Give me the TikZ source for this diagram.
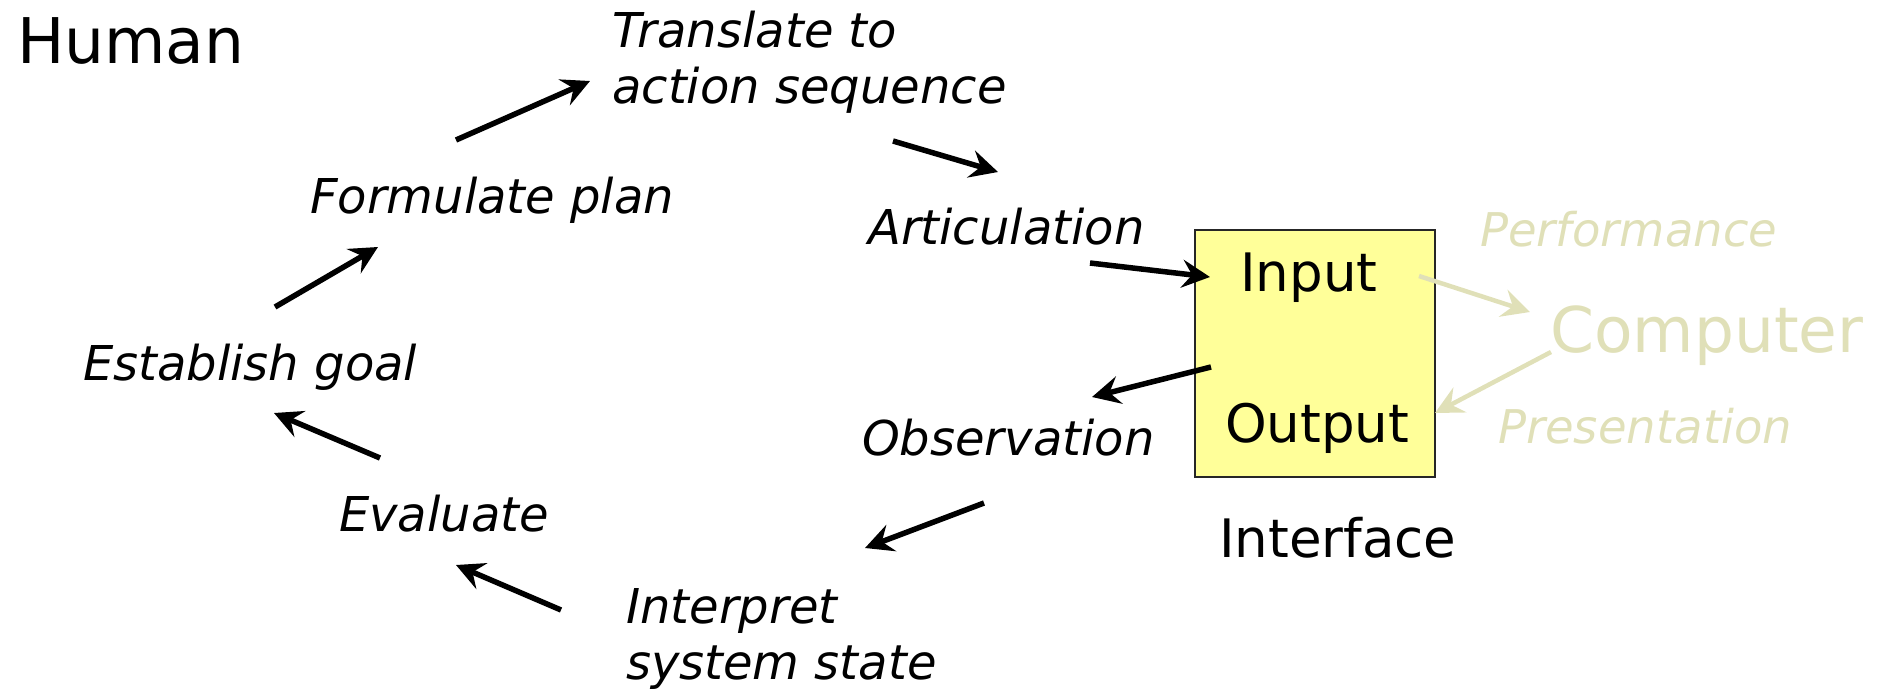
\documentclass[tikz,border=0pt]{standalone}
\usepackage{fontspec}
\setmainfont{DejaVu Sans}
\usetikzlibrary{arrows.meta}
\definecolor{faded}{RGB}{224,224,184}
\definecolor{boxfill}{RGB}{255,255,153}
\tikzset{
  stage/.style={font=\fontsize{48}{56}\selectfont\itshape, inner sep=0pt, anchor=base west, align=left},
  part/.style={font=\fontsize{53}{60}\selectfont, inner sep=0pt, anchor=base west},
  side/.style={font=\fontsize{46.5}{52}\selectfont\itshape, text=faded, inner sep=0pt, anchor=base west},
  flow/.style={line width=5.5pt, -{Stealth[length=28pt,width=28pt,inset=10pt]}},
  link/.style={flow, draw=faded, line width=4.5pt}
}
\begin{document}
\begin{tikzpicture}[x=1pt,y=-1pt]
  \useasboundingbox (0,0) rectangle (1883,689);
  \node[font=\fontsize{63}{70}\selectfont, inner sep=0pt, anchor=base west] (human) at (17,63) {Human};
  \node[stage] (translate) at (612,103) {Translate to\\action sequence};
  \node[stage] (plan) at (310,213) {Formulate plan};
  \node[stage] (artic) at (868,244) {Articulation};
  \node[stage] (goal) at (83,380) {Establish goal};
  \node[stage] (observ) at (862,455) {Observation};
  \node[stage] (eval) at (339,531) {Evaluate};
  \node[stage] (interp) at (626,679) {Interpret\\system state};
  \node[draw=black!85, line width=2pt, fill=boxfill, minimum width=240pt, minimum height=247pt, inner sep=0pt] (iface) at (1315,353.5) {};
  \node[part] (input) at (1240,291) {Input};
  \node[part] (output) at (1225,442) {Output};
  \node[part] (ifacelbl) at (1219,557) {Interface};
  \node[side] (perf) at (1480,246) {Performance};
  \node[font=\fontsize{63}{70}\selectfont, text=faded, inner sep=0pt, anchor=base west] (computer) at (1550,352) {Computer};
  \node[side] (present) at (1498,443) {Presentation};
  \coordinate (goal-out) at (275,307);   \coordinate (plan-in) at (378,247);
  \coordinate (plan-out) at (456,140);   \coordinate (translate-in) at (590,81);
  \coordinate (translate-out) at (893,141); \coordinate (artic-in) at (998,172);
  \coordinate (artic-out) at (1090,263); \coordinate (input-in) at (1210,277);
  \coordinate (output-out) at (1211,367); \coordinate (observ-in) at (1092,397);
  \coordinate (observ-out) at (984,503); \coordinate (interp-in) at (865,548);
  \coordinate (interp-out) at (561,610); \coordinate (eval-in) at (456,565);
  \coordinate (eval-out) at (380,458);   \coordinate (goal-in) at (274,413);
  \coordinate (input-out) at (1419,276); \coordinate (computer-in) at (1530,312);
  \coordinate (computer-out) at (1551,352); \coordinate (output-in) at (1435,413);
  \draw[flow] (goal-out) -- (plan-in);
  \draw[flow] (plan-out) -- (translate-in);
  \draw[flow] (translate-out) -- (artic-in);
  \draw[flow] (artic-out) -- (input-in);
  \draw[flow] (output-out) -- (observ-in);
  \draw[flow] (observ-out) -- (interp-in);
  \draw[flow] (interp-out) -- (eval-in);
  \draw[flow] (eval-out) -- (goal-in);
  \draw[link] (input-out) -- (computer-in);
  \draw[link] (computer-out) -- (output-in);
\end{tikzpicture}
\end{document}
